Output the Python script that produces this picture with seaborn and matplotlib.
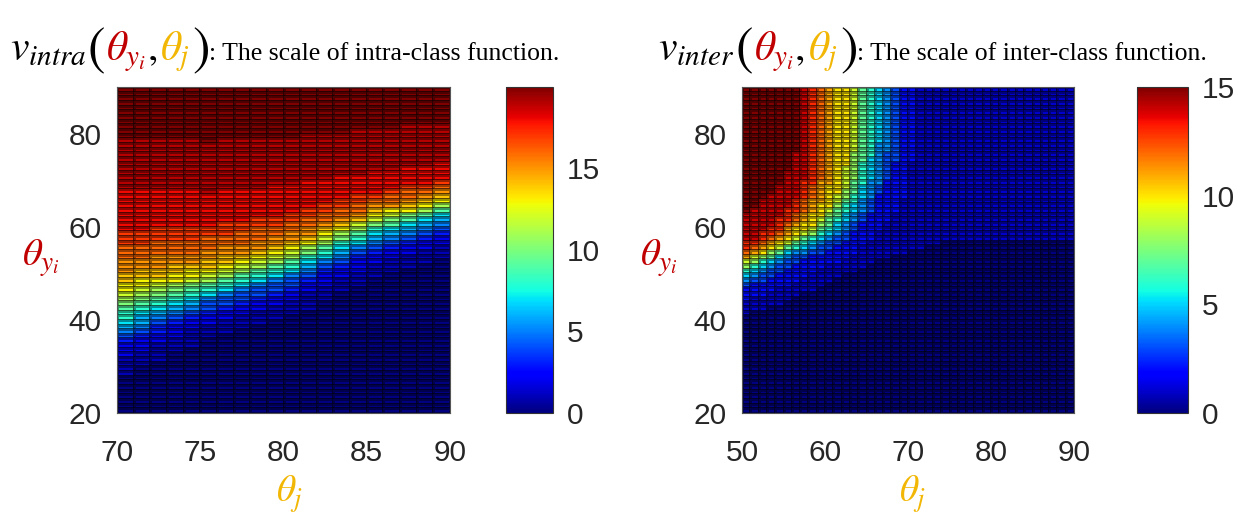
import numpy as np
import pandas as pd
import matplotlib
matplotlib.use("Agg")
import matplotlib.pyplot as plt
import seaborn as sns

# rows of both maps: theta_yi, one row per degree (20..89)
theta_yi = np.arange(20, 90)

# left map, theta_j = 70..89 (one column per degree).
# for every column: the theta_yi row where the scale first reaches 1, 2, ..., 20
intra_theta_j = np.arange(70, 90)
intra_steps = [
    [28, 32, 35, 36, 37, 38, 39, 40, 42, 43, 44, 45, 46, 48, 50, 53, 56, 59, 68, 79],
    [30, 33, 36, 37, 38, 39, 41, 42, 43, 44, 45, 46, 47, 49, 51, 53, 56, 59, 68, 79],
    [31, 35, 37, 39, 40, 41, 42, 43, 44, 45, 46, 47, 48, 49, 51, 54, 57, 60, 68, 79],
    [33, 36, 39, 40, 41, 42, 43, 44, 45, 46, 47, 48, 48, 50, 52, 54, 57, 60, 68, 79],
    [34, 38, 40, 41, 42, 43, 44, 45, 46, 47, 48, 48, 49, 51, 52, 54, 57, 60, 68, 79],
    [36, 39, 41, 42, 44, 45, 45, 46, 47, 48, 48, 49, 50, 51, 53, 55, 58, 60, 67, 78],
    [37, 40, 42, 43, 45, 46, 46, 47, 48, 49, 49, 50, 51, 52, 54, 56, 58, 61, 68, 79],
    [38, 41, 43, 44, 46, 47, 47, 48, 49, 50, 50, 51, 52, 53, 54, 56, 59, 61, 68, 79],
    [39, 42, 44, 45, 47, 48, 48, 49, 50, 51, 51, 52, 53, 54, 55, 57, 60, 62, 68, 79],
    [40, 43, 45, 46, 48, 49, 49, 50, 51, 52, 52, 53, 54, 55, 56, 58, 60, 62, 69, 79],
    [41, 44, 46, 47, 49, 50, 50, 51, 52, 53, 53, 54, 55, 56, 57, 59, 61, 63, 69, 79],
    [42, 46, 48, 49, 50, 51, 52, 53, 54, 54, 55, 56, 56, 57, 58, 60, 62, 64, 70, 80],
    [44, 47, 50, 51, 52, 53, 53, 54, 55, 56, 56, 57, 58, 59, 60, 61, 63, 65, 70, 80],
    [46, 49, 51, 52, 53, 54, 55, 56, 57, 57, 58, 59, 59, 60, 61, 62, 64, 66, 71, 80],
    [47, 50, 53, 54, 55, 56, 56, 57, 58, 59, 59, 60, 61, 61, 62, 63, 65, 67, 71, 81],
    [49, 52, 54, 55, 56, 57, 58, 59, 60, 60, 61, 61, 62, 63, 64, 65, 66, 67, 72, 81],
    [50, 53, 55, 56, 57, 58, 59, 60, 60, 61, 62, 62, 63, 64, 64, 65, 67, 68, 72, 81],
    [51, 54, 56, 57, 58, 59, 60, 61, 61, 62, 63, 63, 63, 64, 65, 66, 68, 69, 73, 82],
    [52, 55, 57, 58, 59, 60, 61, 62, 62, 63, 63, 64, 64, 65, 66, 67, 68, 69, 73, 82],
    [53, 56, 58, 59, 60, 61, 62, 63, 63, 64, 64, 65, 65, 66, 67, 68, 69, 70, 74, 82],
]

# right map, theta_j = 50..89; same idea, scale steps 1..15
inter_theta_j = np.arange(50, 90)
inter_steps = [
    [41, 44, 47, 48, 49, 50, 51, 51, 52, 53, 53, 54, 55, 57, 63],
    [42, 45, 48, 49, 50, 51, 52, 52, 53, 54, 54, 55, 56, 57, 64],
    [42, 45, 48, 50, 51, 52, 53, 53, 54, 54, 55, 56, 57, 59, 66],
    [43, 46, 49, 51, 52, 53, 53, 54, 55, 55, 56, 57, 58, 60, 67],
    [43, 47, 50, 52, 53, 54, 54, 55, 55, 56, 57, 58, 59, 62, 69],
    [44, 47, 51, 53, 54, 55, 55, 56, 56, 57, 58, 60, 61, 64, 72],
    [45, 48, 52, 54, 55, 55, 56, 57, 57, 58, 60, 61, 63, 66, 76],
    [46, 49, 53, 54, 55, 56, 57, 58, 58, 59, 61, 63, 66, 70],
    [46, 50, 54, 55, 56, 57, 58, 58, 59, 60, 63, 66, 69],
    [47, 51, 54, 56, 57, 58, 59, 60, 61, 62, 65, 70],
    [48, 52, 55, 57, 58, 59, 60, 62, 63, 64, 69],
    [49, 52, 56, 58, 59, 61, 62, 64, 65, 67],
    [50, 53, 57, 59, 61, 63, 65, 66, 68, 73],
    [50, 54, 59, 61, 63, 65, 67, 70, 76],
    [51, 56, 61, 63, 66, 69, 74],
    [52, 57, 63, 66, 70, 75],
    [53, 59, 67, 69, 78],
    [53, 61, 70, 76],
    [54, 63, 74],
    [54, 66],
    [55, 74],
    [55], [56], [56], [57], [57],
    [57], [57], [57], [57], [57],
    [57], [57], [57], [57], [57],
    [57], [57], [57], [57],
]

intra_ticks_x = [70, 75, 80, 85, 90]
inter_ticks_x = [50, 60, 70, 80, 90]
ticks_y = [20, 40, 60, 80]
intra_cbar_ticks = [0, 5, 10, 15]
inter_cbar_ticks = [0, 5, 10, 15]

RED = '#c00000'
GOLD = '#f2b705'
W, H = 1252, 532

sns.set_style('white')
plt.rcParams['font.family'] = ['Liberation Sans', 'DejaVu Sans']
plt.rcParams['mathtext.fontset'] = 'stix'


def level_table(steps, cols):
    rows = theta_yi[::-1]
    grid = np.array([[np.sum(np.asarray(s) <= y) for s in steps] for y in rows], dtype=float)
    return pd.DataFrame(grid, index=rows, columns=cols)


intra = level_table(intra_steps, intra_theta_j)
inter = level_table(inter_steps, inter_theta_j)

fig = plt.figure(figsize=(12.52, 5.32), dpi=100)


def px_axes(x0, y0, x1, y1):
    return fig.add_axes([x0 / W, 1 - y1 / H, (x1 - x0) / W, (y1 - y0) / H])


def draw_map(df, ax, cax, vmax, xticks, x0, cticks):
    sns.heatmap(df, ax=ax, cbar_ax=cax, cmap='jet', vmin=0, vmax=vmax,
                linewidths=0.8, linecolor=(0, 0, 0, 0.4),
                xticklabels=False, yticklabels=False)
    ax.set_xticks(np.array(xticks) - x0)
    ax.set_xticklabels([str(v) for v in xticks])
    ax.set_yticks(90 - np.array(ticks_y))
    ax.set_yticklabels([str(v) for v in ticks_y])
    ax.set_xlabel('')
    ax.set_ylabel('')
    ax.tick_params(axis='both', labelsize=21.5, labelcolor='#262626',
                   direction='in', length=4, width=0.8, color='k')
    ax.tick_params(axis='x', pad=19)
    ax.tick_params(axis='y', pad=11)
    for s in ax.spines.values():
        s.set_visible(True)
        s.set_linewidth(0.8)
        s.set_color('#555555')
    cb = ax.collections[0].colorbar
    cb.set_ticks(cticks)
    cb.outline.set_linewidth(0.8)
    cb.outline.set_edgecolor('#333333')
    cax.tick_params(labelsize=21.5, labelcolor='#262626', length=0, pad=10)


ax1 = px_axes(117, 87, 450, 413)
cax1 = px_axes(506, 87, 553, 413)
draw_map(intra, ax1, cax1, 20, intra_ticks_x, 70, intra_cbar_ticks)

ax2 = px_axes(742, 87, 1074, 413)
cax2 = px_axes(1137, 87, 1188, 413)
draw_map(inter, ax2, cax2, 15, inter_ticks_x, 50, inter_cbar_ticks)

renderer = fig.canvas.get_renderer()


def put_parts(x, y, parts):
    for text, color, size, dy, gap in parts:
        t = fig.text(x / W, 1 - (y + dy) / H, text, color=color, fontsize=size,
                     va='baseline', ha='left', family='Liberation Serif')
        x = t.get_window_extent(renderer).x1 + gap


def title_parts(name, word):
    return [
        (r'$v_{%s}$' % name, 'k', 30, 0, 1),
        (r'$($', 'k', 38, 4, 1),
        (r'$\theta_{y_i}$', RED, 30, 0, 0),
        (r'$,$', 'k', 30, 0, 3),
        (r'$\theta_j$', GOLD, 30, 0, 2),
        (r'$)$', 'k', 38, 4, 0),
        (': The scale of %s function.' % word, 'k', 18.5, 0, 0),
    ]


put_parts(10, 60, title_parts('intra', 'intra-class'))
put_parts(658, 60, title_parts('inter', 'inter-class'))

# axis labels
for xl in (22, 640):
    fig.text(xl / W, 1 - 266 / H, r'$\theta_{y_i}$', color=RED, fontsize=28,
             va='baseline', ha='left')
for xc in (290, 913):
    fig.text(xc / W, 1 - 502 / H, r'$\theta_j$', color=GOLD, fontsize=27,
             va='baseline', ha='center')

plt.savefig('out.png', dpi=100)
